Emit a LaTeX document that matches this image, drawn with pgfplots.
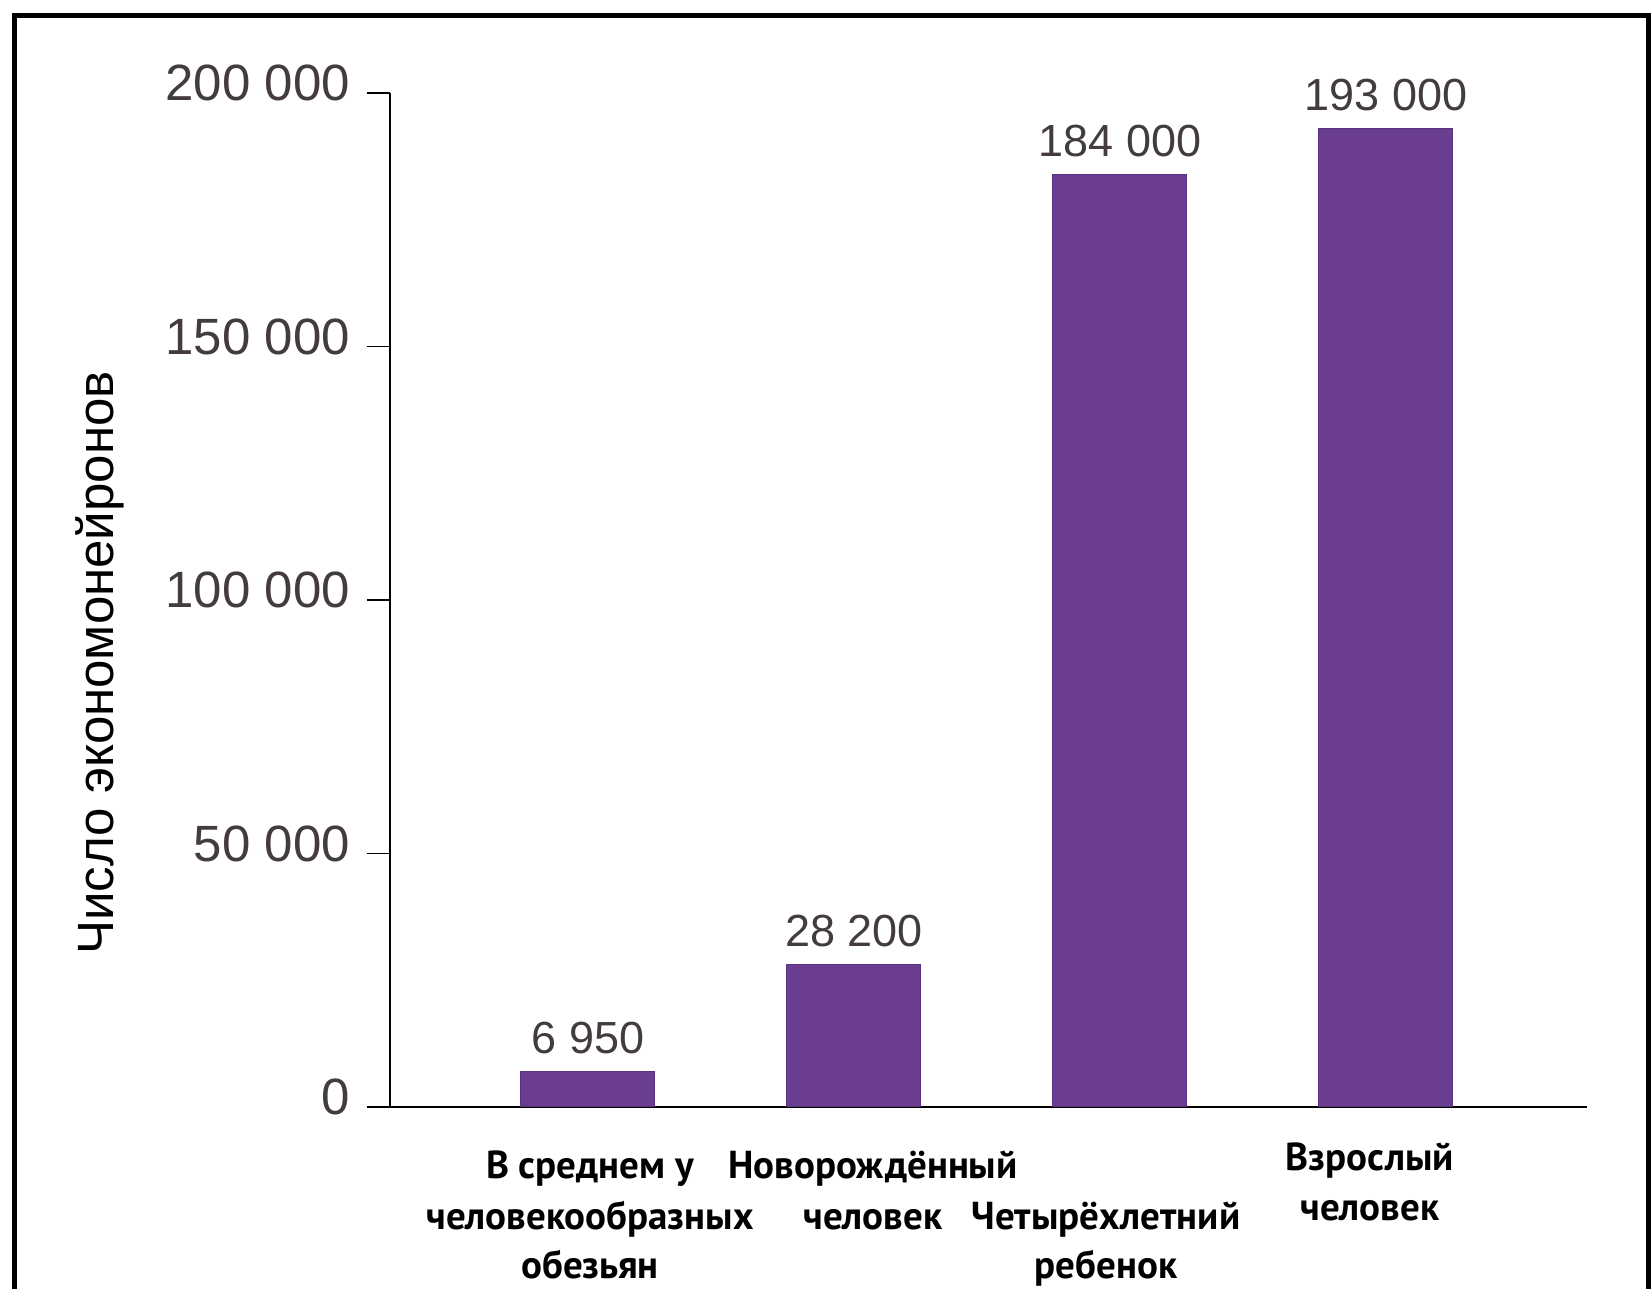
\documentclass[border=0pt]{standalone}
\usepackage{pgfplots}
\pgfplotsset{compat=1.18}
\usepackage{fontspec}
\setmainfont{Liberation Sans}
\newfontfamily\catfont{PT Sans}
\definecolor{barpurple}{HTML}{6A3D91}
\definecolor{ticktext}{HTML}{433B3E}
\begin{document}
\begin{tikzpicture}
\useasboundingbox (-195pt,-91pt) rectangle (630.5pt,553.5pt);
\draw[line width=2.5pt] (-187.75pt,-100pt) -- (-187.75pt,545.75pt) -- (629pt,545.75pt) -- (629pt,-100pt);
\begin{axis}[
  at={(0pt,0pt)}, anchor=south west,
  scale only axis, width=598.5pt, height=507pt,
  xmin=-0.744, xmax=3.756, ymin=0, ymax=200000,
  axis x line=bottom, axis y line=left,
  axis line style={-, line width=1pt, black},
  xtick=\empty,
  scaled y ticks=false,
  ytick={0,50000,100000,150000,200000},
  yticklabels={0,50 000,100 000,150 000,200 000},
  tick align=outside, major tick length=11.5pt,
  tick style={line width=0.8pt, black},
  yticklabel style={font=\fontsize{25.5}{30}\selectfont, text=ticktext, yshift=5pt, xshift=-5pt},
  clip=false,
]
\addplot[ybar, bar width=67pt, fill=barpurple, draw=barpurple!85!black, line width=0.5pt,
  point meta=explicit symbolic,
  nodes near coords,
  every node near coord/.append style={font=\fontsize{22.5}{27}\selectfont, text=ticktext, anchor=south, inner sep=0pt, yshift=8.5pt}]
  table[col sep=comma, x=x, y=y, meta=lab] {
x,y,lab
0,6950,6 950
1,28200,28 200
2,184000,184 000
3,193000,193 000
};
\begin{scope}[every node/.style={anchor=base, inner sep=0pt, font=\catfont\bfseries\fontsize{19.5}{24}\selectfont}]
\node[xshift=1pt, yshift=-36pt] at (axis cs:0,0) {В среднем у};
\node[xshift=1pt, yshift=-61.5pt] at (axis cs:0,0) {человекообразных};
\node[xshift=1pt, yshift=-86pt] at (axis cs:0,0) {обезьян};
\node[xshift=9.5pt, yshift=-36pt] at (axis cs:1,0) {Новорождённый};
\node[xshift=9.5pt, yshift=-61.5pt] at (axis cs:1,0) {человек};
\node[xshift=-7pt, yshift=-61.5pt] at (axis cs:2,0) {Четырёхлетний};
\node[xshift=-7pt, yshift=-86pt] at (axis cs:2,0) {ребенок};
\node[xshift=-8pt, yshift=-32pt] at (axis cs:3,0) {Взрослый};
\node[xshift=-8pt, yshift=-57pt] at (axis cs:3,0) {человек};
\end{scope}
\end{axis}
\node[rotate=90, font=\fontsize{25.5}{30}\selectfont] at (-145pt,222pt) {Число экономонейронов};
\end{tikzpicture}
\end{document}
